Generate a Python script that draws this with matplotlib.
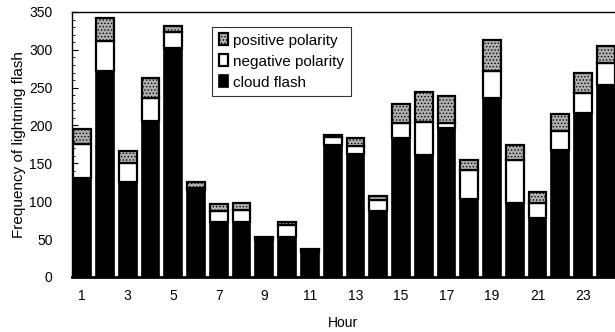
import matplotlib
matplotlib.use('Agg')
import matplotlib.pyplot as plt
import numpy as np
from matplotlib.ticker import MultipleLocator

plt.rcParams['font.family'] = ['Liberation Sans', 'DejaVu Sans']
plt.rcParams['hatch.linewidth'] = 0.6

hours = list(range(1, 25))
cloud = [131, 272, 126, 206, 302, 115, 72, 73, 49, 53, 33, 174,
         163, 87, 184, 161, 197, 103, 236, 97, 78, 168, 216, 254]
negative = [44, 39, 25, 30, 21, 3, 15, 16, 2, 15, 2, 11,
            10, 15, 19, 43, 6, 38, 36, 57, 19, 25, 27, 29]
positive = [21, 31, 15, 27, 9, 7, 9, 9, 2, 4, 2, 3,
            10, 5, 26, 40, 36, 14, 41, 20, 15, 22, 26, 22]
xtick_labels = ['1', '3', '5', '7', '9', '11', '13', '15', '17', '19', '21', '23']

cloud = np.array(cloud)
negative = np.array(negative)
positive = np.array(positive)

fig = plt.figure(figsize=(6.15, 3.32), dpi=100)
ax = fig.add_axes([0.117, 0.166, 0.883, 0.798])

w = 0.78
b1 = ax.bar(hours, cloud, w, color='black', edgecolor='black', linewidth=1.2,
            label='cloud flash')
b2 = ax.bar(hours, negative, w, bottom=cloud, color='white', edgecolor='black',
            linewidth=1.6, label='negative polarity')
b3 = ax.bar(hours, positive, w, bottom=cloud + negative, color='#b0b0b0',
            edgecolor='black', linewidth=1.6, hatch='.....',
            label='positive polarity')

ax.set_xlim(0.55, 24.4)
ax.set_ylim(0, 350)
ax.set_xticks(range(1, 24, 2))
ax.set_xticklabels(xtick_labels)
ax.yaxis.set_major_locator(MultipleLocator(50))
ax.yaxis.set_minor_locator(MultipleLocator(10))
ax.tick_params(axis='both', direction='in', labelsize=10, length=4, width=0.8)
ax.tick_params(axis='x', pad=9)
ax.tick_params(axis='y', pad=14)
ax.tick_params(axis='y', which='minor', direction='in', length=2, width=0.6)

ax.spines['bottom'].set_linewidth(2.0)
ax.spines['left'].set_linewidth(1.0)
ax.spines['top'].set_linewidth(1.0)
ax.spines['right'].set_visible(False)

ax.set_xlabel('Hour', fontsize=10, labelpad=9)
ax.set_ylabel('Frequency of lightning flash', fontsize=11, labelpad=2)

leg = ax.legend(handles=[b3, b2, b1], loc='upper left',
                bbox_to_anchor=(0.258, 0.945), fontsize=11, frameon=True,
                fancybox=False, edgecolor='black', handlelength=0.6,
                handleheight=0.8, handletextpad=0.3, borderpad=0.45,
                labelspacing=0.45, borderaxespad=0)
leg.get_frame().set_linewidth(0.8)

plt.savefig('out.png', dpi=100)
